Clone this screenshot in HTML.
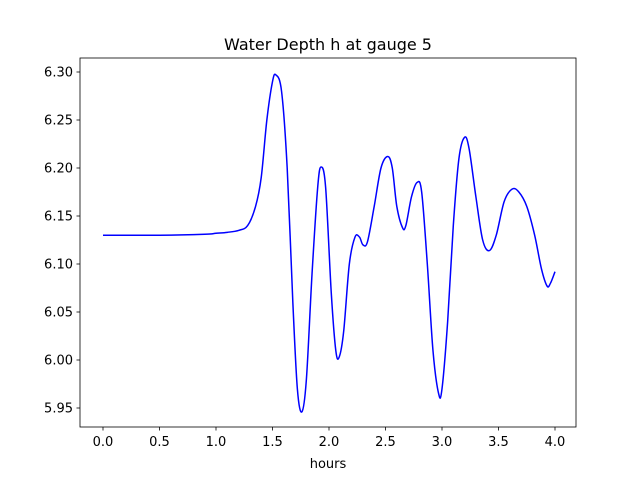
<!DOCTYPE html>
<html><head><meta charset="utf-8"><style>
body{margin:0;background:#fff}
svg text{font-family:"DejaVu Sans","Liberation Sans",sans-serif;font-size:13px;fill:#000}
</style></head><body>
<svg id="chart" width="640" height="480" xmlns="http://www.w3.org/2000/svg">
<rect width="640" height="480" fill="#fff"/>
<text x="328" y="50" text-anchor="middle" style="font-size:16px">Water Depth h at gauge 5</text>
<g id="axes"></g>
<path id="line" fill="none" stroke="#0000ff" stroke-width="1.5"/>
<rect x="80" y="58" width="496" height="369" fill="none" stroke="#000" stroke-width="0.8"/>
<text x="328" y="468" text-anchor="middle">hours</text>
</svg>
<script>
const times=[0,0.5,0.9,1.0,1.1,1.2,1.28,1.35,1.4,1.45,1.5,1.53,1.58,1.63,1.68,1.72,1.76,1.8,1.85,1.9,1.93,1.97,2.02,2.06,2.09,2.13,2.18,2.23,2.27,2.3,2.34,2.4,2.46,2.52,2.56,2.6,2.65,2.68,2.73,2.78,2.82,2.87,2.92,2.97,3.0,3.05,3.1,3.15,3.2,3.24,3.3,3.36,3.42,3.48,3.55,3.62,3.68,3.75,3.82,3.88,3.93,3.96,4.0];
const depths=[6.13,6.13,6.131,6.132,6.133,6.135,6.14,6.16,6.19,6.25,6.29,6.297,6.28,6.2,6.06,5.97,5.946,5.98,6.09,6.18,6.201,6.18,6.07,6.01,6.003,6.03,6.1,6.128,6.128,6.12,6.123,6.16,6.2,6.212,6.2,6.16,6.138,6.14,6.17,6.185,6.175,6.1,6.01,5.965,5.97,6.04,6.14,6.21,6.232,6.22,6.17,6.125,6.114,6.13,6.165,6.178,6.175,6.16,6.13,6.095,6.077,6.08,6.092];
const xTicks=[0,0.5,1.0,1.5,2.0,2.5,3.0,3.5,4.0];
const yTicks=[5.95,6.00,6.05,6.10,6.15,6.20,6.25,6.30];
const X=v=>103+v*113;
const Y=v=>72+(6.30-v)*960;
const NS="http://www.w3.org/2000/svg";
const ax=document.getElementById('axes');
function mk(t,a){const e=document.createElementNS(NS,t);for(const k in a)e.setAttribute(k,a[k]);ax.appendChild(e);return e;}
xTicks.forEach(v=>{
 const l=mk('line',{x1:X(v),x2:X(v),y1:427,y2:430.5,stroke:'#000','stroke-width':0.8});
 
 
 const t=mk('text',{x:X(v),y:446,'text-anchor':'middle'});t.textContent=v.toFixed(1);
 
 
});
yTicks.forEach(v=>{
 const l=mk('line',{x1:76.5,x2:80,y1:Y(v),y2:Y(v),stroke:'#000','stroke-width':0.8});
 
 
 const t=mk('text',{x:73,y:Y(v)+4.5,'text-anchor':'end'});t.textContent=v.toFixed(2);
 
 
});
const P=times.map((t,i)=>[X(t),Y(depths[i])]);
let d='M'+P[0][0]+','+P[0][1];
for(let i=0;i<P.length-1;i++){
 const p0=P[Math.max(0,i-1)],p1=P[i],p2=P[i+1],p3=P[Math.min(P.length-1,i+2)];
 const c1=[p1[0]+(p2[0]-p0[0])/6,p1[1]+(p2[1]-p0[1])/6];
 const c2=[p2[0]-(p3[0]-p1[0])/6,p2[1]-(p3[1]-p1[1])/6];
 d+=' C'+c1+' '+c2+' '+p2;
}
document.getElementById('line').setAttribute('d',d);
</script>
</body></html>
